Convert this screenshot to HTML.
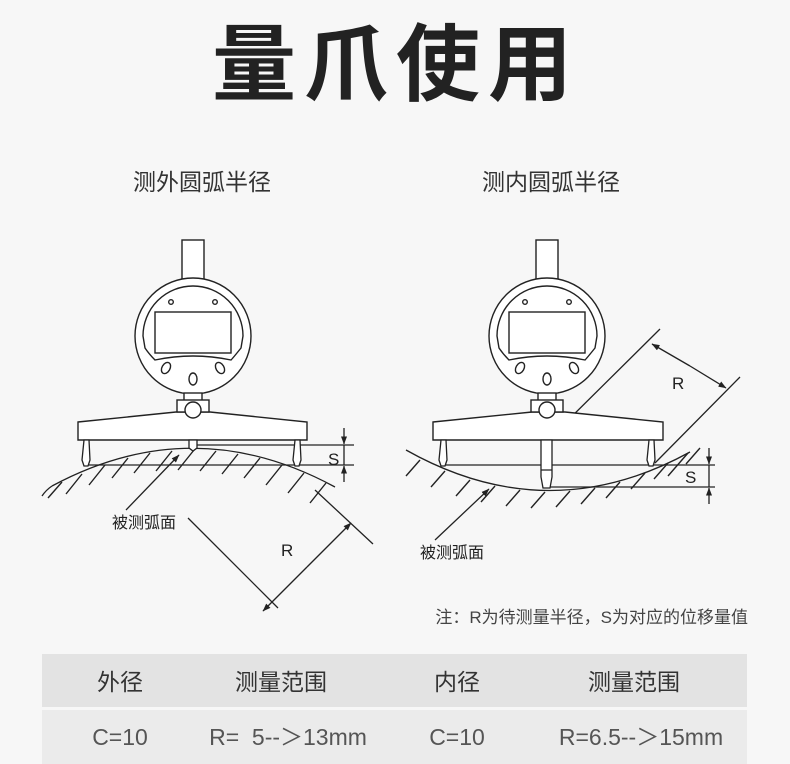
<!DOCTYPE html>
<html><head><meta charset="utf-8"><style>
body{margin:0;width:790px;height:764px;background:#f7f7f7;overflow:hidden;font-family:"Liberation Sans","Noto Sans CJK SC",sans-serif;}
</style></head><body>
<svg width="790" height="764" viewBox="0 0 790 764" xmlns="http://www.w3.org/2000/svg" style="display:block">
<defs>
<marker id="a" markerWidth="8" markerHeight="6" refX="7.5" refY="3" orient="auto" markerUnits="userSpaceOnUse"><path d="M0,0 L8,3 L0,6 z" fill="#222"/></marker>
<g id="gauge" fill="#fff" stroke="#222" stroke-width="1.4">
<rect x="-11" y="-96" width="22" height="42"/>
<circle cx="0" cy="0" r="58"/>
<path d="M-50,0 A50,50 0 1 1 50,0 L48,12 Q40,22 38,24 Q0,16 -38,24 Q-44,18 -48,12 Z" fill="#fff"/>
<rect x="-38" y="-24" width="76" height="41"/>
<circle cx="-22" cy="-34" r="2.3"/><circle cx="22" cy="-34" r="2.3"/>
<ellipse cx="-27" cy="32" rx="4" ry="6" transform="rotate(30 -27 32)"/>
<ellipse cx="27" cy="32" rx="4" ry="6" transform="rotate(-30 27 32)"/>
<ellipse cx="0" cy="43" rx="4" ry="6"/>
<rect x="-9" y="57" width="18" height="8"/>
<rect x="-16" y="64" width="32" height="12"/>
</g>
</defs>
<text x="396" y="94" text-anchor="middle" font-size="84" font-weight="bold" fill="#222" letter-spacing="8">量爪使用</text>
<text x="202" y="190" text-anchor="middle" font-size="23" fill="#333">测外圆弧半径</text>
<text x="551" y="190" text-anchor="middle" font-size="23" fill="#333">测内圆弧半径</text>

<!-- LEFT -->
<g stroke="#222" stroke-width="1.3" fill="none">
<path d="M52,486 Q193,410 335,487"/>
<path d="M52,486 Q46,490 42,496"/>
<g stroke-width="1.4">
<path d="M62,482 L48,498 M82,474 L66,494 M105,465 L89,485 M128,458 L112,478 M150,453 L134,473 M172,451 L156,471 M194,450 L178,470 M216,451 L200,471 M238,454 L222,474 M260,458 L244,478 M282,465 L266,485 M304,473 L288,493 M326,483 L310,503"/>
</g>
<path d="M193,445 L354,445 M85,465 L354,465"/>
<path d="M344,428 L344,444" marker-end="url(#a)"/>
<path d="M344,482 L344,466" marker-end="url(#a)"/>
<path d="M344,445 L344,465"/>
<path d="M126,510 L179,455" marker-end="url(#a)"/>
<path d="M188,518 L278,608 M315,490 L373,544"/>
<path d="M307,567 L351,523" marker-end="url(#a)"/>
<path d="M307,567 L263,611" marker-end="url(#a)"/>
</g>
<path d="M78,422 L176,412 L210,412 L307,422 L307,440 L78,440 Z" fill="#fff" stroke="#222" stroke-width="1.4"/>
<path d="M84,440 L89,440 L90,460 L88,466 L84,466 L82,460 Z M295,440 L300,440 L301,460 L299,466 L295,466 L293,460 Z M189,440 L197,440 L197,448 L193,451 L189,448 Z" fill="#fff" stroke="#222" stroke-width="1.3"/>
<use href="#gauge" x="193" y="336"/>
<circle cx="193" cy="410" r="8" fill="#fff" stroke="#222" stroke-width="1.4"/>
<text x="112" y="528" font-size="16" fill="#222">被测弧面</text>
<text x="281" y="556" font-size="17" fill="#222">R</text>
<text x="328" y="465" font-size="17" fill="#222">S</text>

<!-- RIGHT -->
<g stroke="#222" stroke-width="1.3" fill="none">
<path d="M406,450 Q548,530 690,452"/>
<g stroke-width="1.4">
<path d="M420,460 L406,476 M445,471 L431,487 M470,480 L456,496 M495,486 L481,502 M520,490 L506,506 M545,492 L531,508 M570,491 L556,507 M595,488 L581,504 M620,482 L606,498 M645,473 L631,489 M668,463 L654,479 M688,453 L668,476 M700,448 L686,464"/>
</g>
<path d="M443,465 L715,465 M547,487 L715,487"/>
<path d="M709,448 L709,464" marker-end="url(#a)"/>
<path d="M709,504 L709,488" marker-end="url(#a)"/>
<path d="M709,465 L709,487"/>
<path d="M435,540 L489,489" marker-end="url(#a)"/>
<path d="M548,440 L660,329 M655,463 L740,377"/>
<path d="M690,366 L652,344" marker-end="url(#a)"/>
<path d="M690,366 L726,388" marker-end="url(#a)"/>
</g>
<path d="M433,422 L532,412 L565,412 L663,422 L663,440 L433,440 Z" fill="#fff" stroke="#222" stroke-width="1.4"/>
<path d="M441,440 L446,440 L447,460 L445,466 L441,466 L439,460 Z M649,440 L654,440 L655,460 L653,466 L649,466 L647,460 Z M541,440 L552,440 L552,477 L550,488 L543,488 L541,477 Z M541,470 L552,470" fill="#fff" stroke="#222" stroke-width="1.3"/>
<use href="#gauge" x="547" y="336"/>
<circle cx="547" cy="410" r="8" fill="#fff" stroke="#222" stroke-width="1.4"/>
<text x="420" y="558" font-size="16" fill="#222">被测弧面</text>
<text x="672" y="389" font-size="17" fill="#222">R</text>
<text x="685" y="483" font-size="17" fill="#222">S</text>

<text x="748" y="623" text-anchor="end" font-size="17" fill="#444">注：R为待测量半径，S为对应的位移量值</text>

<!-- table -->
<rect x="42" y="654" width="705" height="53" fill="#e3e3e3"/>
<rect x="42" y="710" width="705" height="54" fill="#ebebeb"/>
<g font-size="23" fill="#333" text-anchor="middle">
<text x="120" y="690">外径</text><text x="281" y="690">测量范围</text>
<text x="457" y="690">内径</text><text x="634" y="690">测量范围</text>
</g>
<g font-size="23" fill="#555" text-anchor="middle">
<text x="120" y="745">C=10</text><text x="288" y="745" xml:space="preserve">R=  5--＞13mm</text>
<text x="457" y="745">C=10</text><text x="641" y="745">R=6.5--＞15mm</text>
</g>
</svg>
</body></html>
